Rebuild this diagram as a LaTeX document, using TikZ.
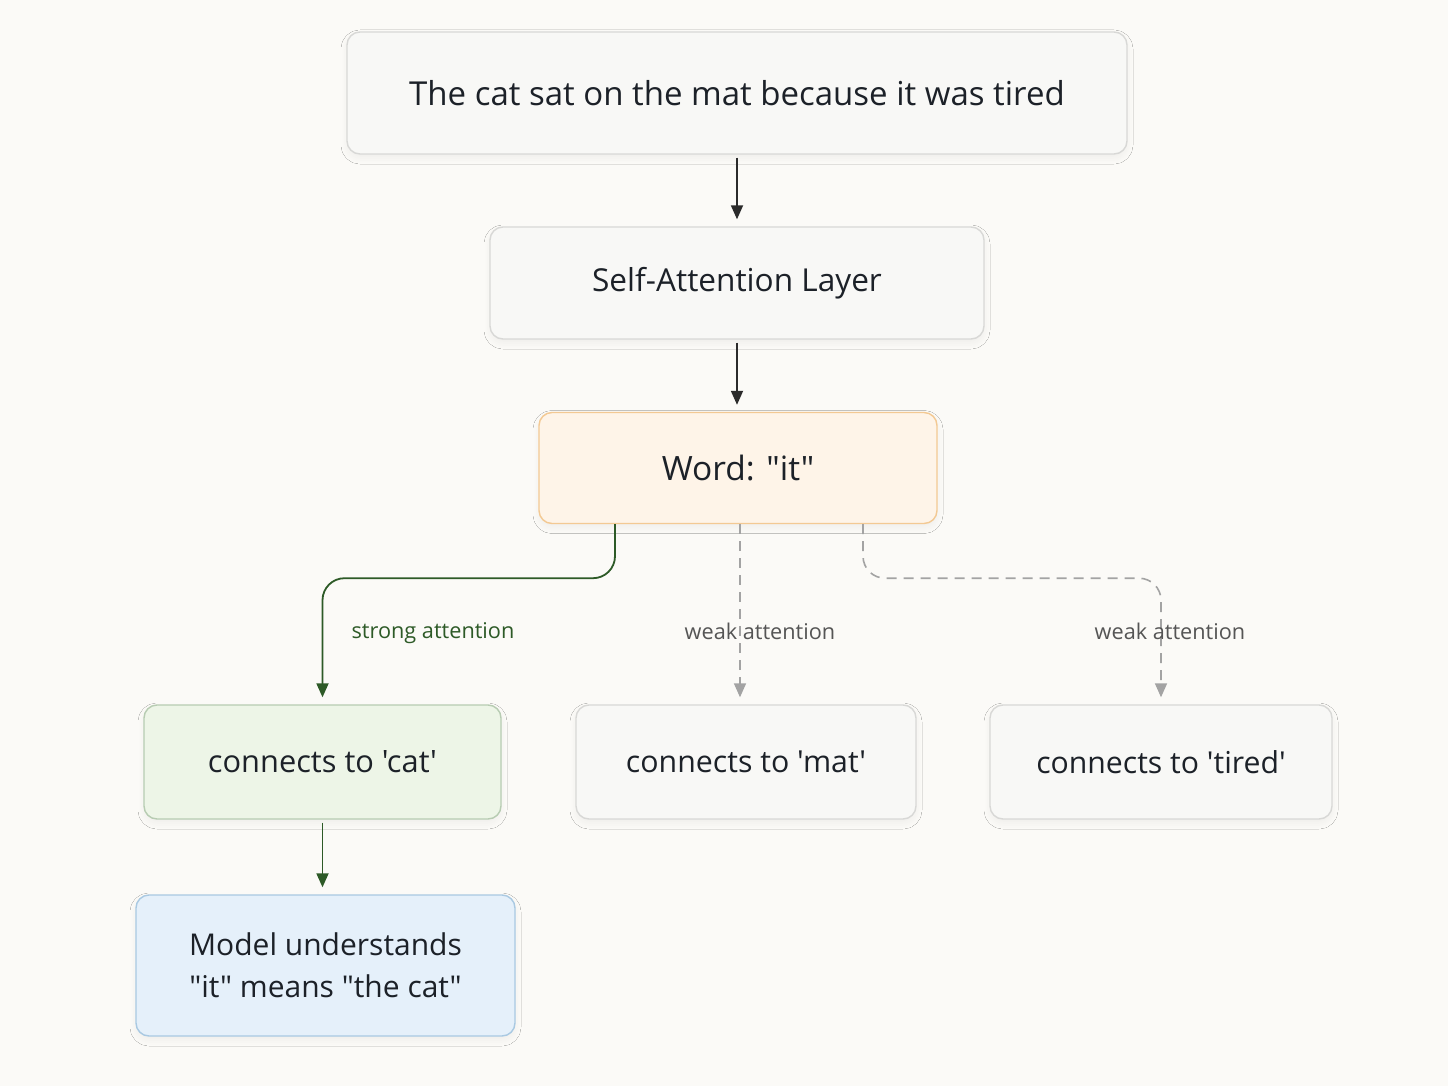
\documentclass[tikz,border=0pt]{standalone}
\usepackage{fontspec}
\setmainfont{Open Sans}[Ligatures=TeXOff]
\usetikzlibrary{arrows.meta,shadows.blur}
\definecolor{bg}{HTML}{FBFAF7}
\definecolor{boxfill}{HTML}{F8F8F6}
\definecolor{boxline}{HTML}{D8D8D6}
\definecolor{orfill}{HTML}{FEF4E8}
\definecolor{orline}{HTML}{F3C993}
\definecolor{grfill}{HTML}{EDF5E7}
\definecolor{grline}{HTML}{B7CCB2}
\definecolor{blfill}{HTML}{E5F0FA}
\definecolor{blline}{HTML}{A9C9E2}
\definecolor{txt}{HTML}{1C2128}
\definecolor{darkgreen}{HTML}{2D5A27}
\definecolor{wgray}{HTML}{A3A3A3}
\definecolor{wtxt}{HTML}{555555}
\definecolor{arr}{HTML}{2B2B2B}
\newcommand{\fs}[1]{\fontsize{#1}{42}\selectfont}
\tikzset{
  box/.style={draw=boxline, fill=boxfill, line width=1.4pt, rounded corners=13pt,
    text=txt, align=center, font=\fs{31},
    blur shadow={shadow blur steps=10, shadow xshift=0pt, shadow yshift=-4pt, shadow opacity=5, shadow blur radius=6pt}},
  conn/.style={line width=1.8pt, -{Triangle[length=14pt,width=12pt]}},
  dk/.style={conn, draw=arr},
  strong/.style={conn, draw=darkgreen, rounded corners=22pt},
  weak/.style={conn, draw=wgray, dash pattern=on 10pt off 7pt, rounded corners=22pt, line width=1.6pt},
  lbl/.style={font=\fontsize{21.7}{26}\selectfont, inner sep=0pt},
}
\begin{document}
\begin{tikzpicture}[x=1pt,y=-1pt]
\fill[bg] (0,0) rectangle (1448,1086);
\useasboundingbox (0,0) rectangle (1448,1086);
\node[box, font=\fs{33}, minimum width=780pt, minimum height=122pt] (top) at (737,93) {The cat sat on the mat because it was tired};
\node[box, font=\fs{31.6}, minimum width=494pt, minimum height=112pt] (self) at (737,283) {Self-Attention Layer};
\node[box, font=\fs{33.5}, draw=orline, fill=orfill, minimum width=398pt, minimum height=111pt] (word) at (738,468) {Word: "it"};
\node[box, font=\fs{30.8}, draw=grline, fill=grfill, minimum width=357pt, minimum height=114pt] (cat) at (322.5,762) {connects to 'cat'};
\node[box, font=\fs{30.3}, minimum width=340pt, minimum height=114pt] (mat) at (746,762) {connects to 'mat'};
\node[box, font=\fs{30.2}, minimum width=342pt, minimum height=114pt] (tired) at (1161,762) {connects to 'tired'};
\node[box, font=\fs{30}, draw=blline, fill=blfill, minimum width=379pt, minimum height=141pt] (model) at (325.5,965.5) {Model understands\\"it" means "the cat"};

\draw[dk] ([yshift=-3pt]top.south) -- ([yshift=7pt]self.north);
\draw[dk] ([yshift=-3pt]self.south) -- ([yshift=7pt]self.south |- word.north);
\draw[strong] ([xshift=-123pt]word.south) -- ++(0,54) -| ([yshift=7pt]cat.north);
\draw[weak] ([xshift=2pt]word.south) -- ([xshift=-6pt,yshift=7pt]mat.north);
\draw[weak] ([xshift=125pt]word.south) -- ++(0,54) -| ([yshift=7pt]tired.north);
\draw[conn, draw=darkgreen] ([yshift=-3pt]cat.south) -- ([yshift=7pt]cat.south |- model.north);

\node[lbl, text=darkgreen] (l1) at (433,633) {strong attention};
\node[lbl, text=wtxt] (l2) at (760,631) {weak attention};
\node[lbl, text=wtxt] (l3) at (1170,631) {weak attention};
\end{tikzpicture}
\end{document}
